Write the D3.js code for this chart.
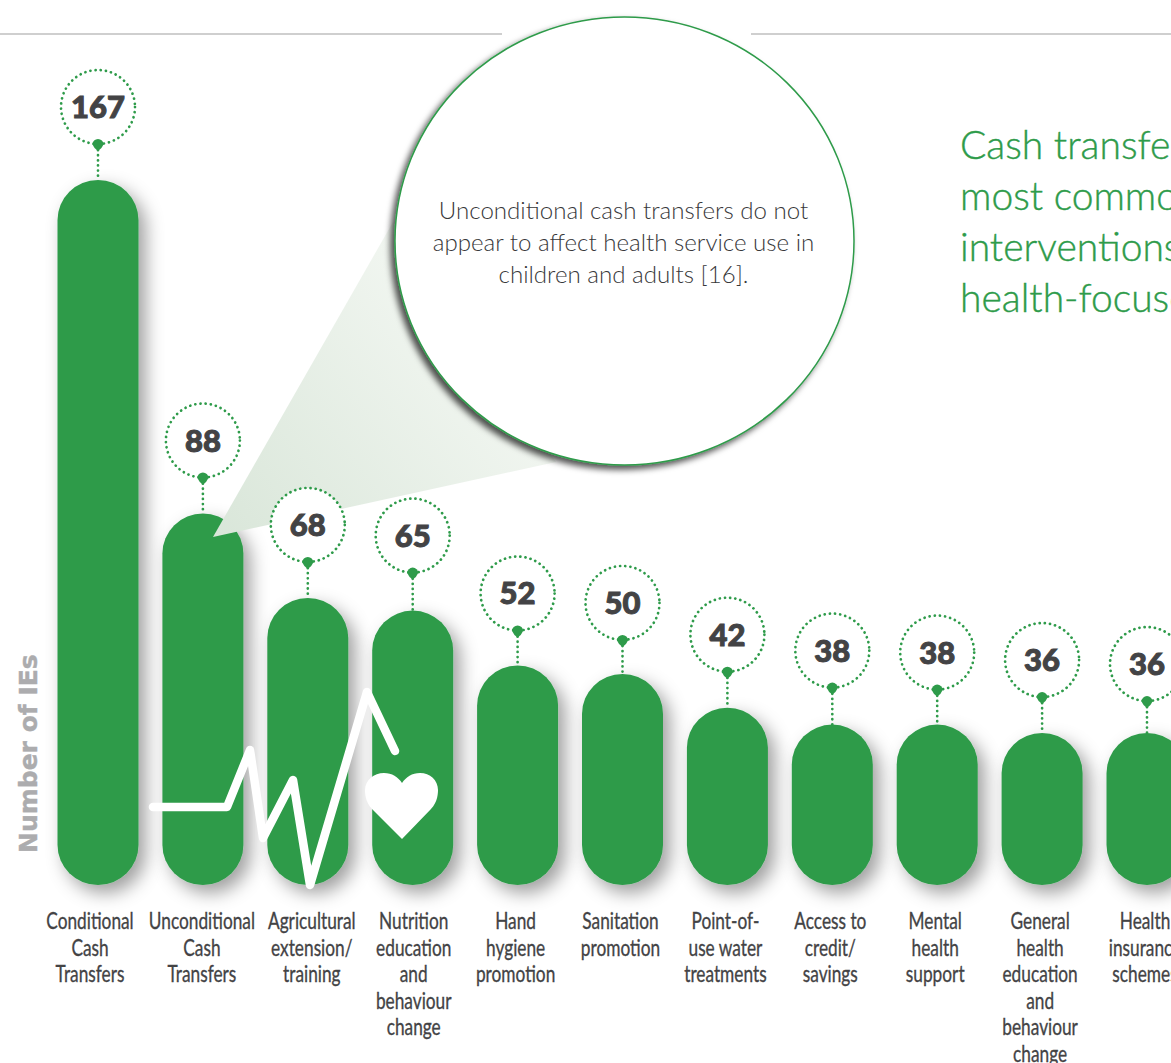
<!DOCTYPE html>
<html><head><meta charset="utf-8">
<style>html,body{margin:0;padding:0;background:#fff;overflow:hidden}svg{display:block}</style>
<script src="https://cdn.jsdelivr.net/npm/d3@7/dist/d3.min.js"></script>
</head><body><svg id="c" width="1171" height="1063"></svg>
<script>
const categories=[["Conditional","Cash","Transfers"],["Unconditional","Cash","Transfers"],["Agricultural","extension/","training"],["Nutrition","education","and","behaviour","change"],["Hand","hygiene","promotion"],["Sanitation","promotion"],["Point-of-","use water","treatments"],["Access to","credit/","savings"],["Mental","health","support"],["General","health","education","and","behaviour","change"],["Health","insurance","schemes"]];
const values=[167,88,68,65,52,50,42,38,38,36,36];
const labelNudge=[-8,-1,4,1,-2,-2,-2,-2,-2,-2,-2];
const badgeNudge=[0,0,0,-2,1,2,0,-1,1,0,4];
const calloutLines=["Unconditional cash transfers do not","appear to affect health service use in","children and adults [16]."];
const headline=["Cash transfers are the","most common","interventions in","health-focused"];
const axisTitle="Number of IEs";
const pulsePts=[[153,807],[227,807],[250,750],[263,838],[293,780],[310,885],[367,692],[395,751]];

const GREEN="#2e9b4a",INK="#434345";
const svg=d3.select("#c");
const defs=svg.append("defs");
const f=defs.append("filter").attr("id","barShadow").attr("x","-40%").attr("y","-10%").attr("width","190%").attr("height","130%");
f.append("feDropShadow").attr("dx",7).attr("dy",8).attr("stdDeviation",9).attr("flood-color","#000").attr("flood-opacity",.38);
const f2=defs.append("filter").attr("id","bubbleShadow").attr("x","-10%").attr("y","-10%").attr("width","120%").attr("height","120%");
f2.append("feDropShadow").attr("dx",-4).attr("dy",4).attr("stdDeviation",3).attr("flood-color","#000").attr("flood-opacity",.68);
const g=defs.append("linearGradient").attr("id","cone").attr("gradientUnits","userSpaceOnUse").attr("x1",213).attr("y1",537).attr("x2",520).attr("y2",300);
g.append("stop").attr("offset",0).attr("stop-color","#d9e6d9");
g.append("stop").attr("offset",1).attr("stop-color","#f6f9f5");

const step=104.9, barW=81;
const x=d3.scaleBand().domain(d3.range(values.length)).range([57.5,57.5+10*step+barW]).paddingInner(1-barW/step).paddingOuter(0);
const y=d3.scaleLinear().domain([0,167]).range([885,180]);
const bw=x.bandwidth(), cx=i=>x(i)+bw/2;

// top rules
svg.selectAll("line.rule").data([[0,502],[751,1171]]).join("line").attr("class","rule")
 .attr("x1",d=>d[0]).attr("x2",d=>d[1]).attr("y1",34).attr("y2",34).attr("stroke","#cfcfcf").attr("stroke-width",2);

// bars
svg.append("g").selectAll("rect").data(values).join("rect")
 .attr("x",(d,i)=>x(i)).attr("y",d=>y(d)).attr("width",bw).attr("height",d=>y(0)-y(d))
 .attr("rx",bw/2).attr("ry",40).attr("fill",GREEN).attr("filter","url(#barShadow)");

// pulse icon
svg.append("path").attr("d",d3.line()(pulsePts)).attr("fill","none").attr("stroke","#fff")
 .attr("stroke-width",8.5).attr("stroke-linecap","round").attr("stroke-linejoin","round");
svg.append("path").attr("fill","#fff")
 .attr("d","M402 839 L372 809 C365 802 365 792 365 790 C365 780 374 773 384 773 C392 773 398 777 402 783 C406 777 412 773 420 773 C430 773 438 780 438 790 C438 792 438 802 431 809 Z");

// cone + callout
svg.append("polygon").attr("points","213,537 393,222 556,462").attr("fill","url(#cone)");
svg.append("ellipse").attr("cx",624.5).attr("cy",241).attr("rx",229.5).attr("ry",224)
 .attr("fill","#fff").attr("stroke",GREEN).attr("stroke-width",1.5).attr("filter","url(#bubbleShadow)");
svg.append("g").selectAll("text").data(calloutLines).join("text")
 .attr("x",623.5).attr("y",(d,i)=>219+i*32).attr("text-anchor","middle")
 .attr("font-family","Lato").attr("font-weight",300).attr("font-size",24.1).attr("fill","#38383a").text(d=>d);

// value badges
const b=svg.append("g").selectAll("g").data(values).join("g").attr("transform",(d,i)=>`translate(${cx(i)},${y(d)})`);
b.append("line").attr("y1",(d,i)=>-35+badgeNudge[i]).attr("y2",0).attr("stroke",GREEN).attr("stroke-width",2.7)
 .attr("stroke-linecap","round").attr("stroke-dasharray","0.1 5");
b.append("circle").attr("cy",(d,i)=>-73+badgeNudge[i]).attr("r",37).attr("fill","#fff").attr("stroke",GREEN).attr("stroke-width",2.7)
 .attr("stroke-linecap","round").attr("stroke-dasharray","0.1 5.1");
b.append("path").attr("transform",(d,i)=>`translate(0,${badgeNudge[i]+1})`)
 .attr("d","M-5.5 -36.5 A5.5 5.5 0 0 1 5.5 -36.5 Q4 -32.5 0 -30 Q-4 -32.5 -5.5 -36.5 Z").attr("fill",GREEN);
b.append("text").attr("y",(d,i)=>-62+badgeNudge[i]).attr("text-anchor","middle").attr("font-family","Lato").attr("font-weight",900)
 .attr("font-size",31).attr("fill",INK).attr("stroke",INK).attr("stroke-width",1).text(d=>d);

// category labels
const lab=svg.append("g").selectAll("g").data(categories).join("g");
lab.each(function(lines,i){
  d3.select(this).selectAll("text").data(lines).join("text")
   .attr("transform",(d,j)=>`translate(${cx(i)+labelNudge[i]},${929+j*26.5}) scale(.72,1)`)
   .attr("text-anchor","middle").attr("font-family","Lato").attr("font-size",24).attr("fill",INK)
   .attr("stroke",INK).attr("stroke-width",.35).text(d=>d);
});

// axis title
svg.append("text").attr("transform","translate(37,853) rotate(-90)").attr("font-family","'DejaVu Sans'")
 .attr("font-weight",700).attr("font-size",25).attr("fill","#acacae").attr("stroke","#acacae").attr("stroke-width",.4).text(axisTitle);

// headline
svg.append("g").selectAll("text").data(headline).join("text")
 .attr("x",960).attr("y",(d,i)=>159+i*51).attr("font-family","Lato").attr("font-weight",300)
 .attr("font-size",39).attr("fill",GREEN).attr("stroke",GREEN).attr("stroke-width",.4).text(d=>d);
</script></body></html>
